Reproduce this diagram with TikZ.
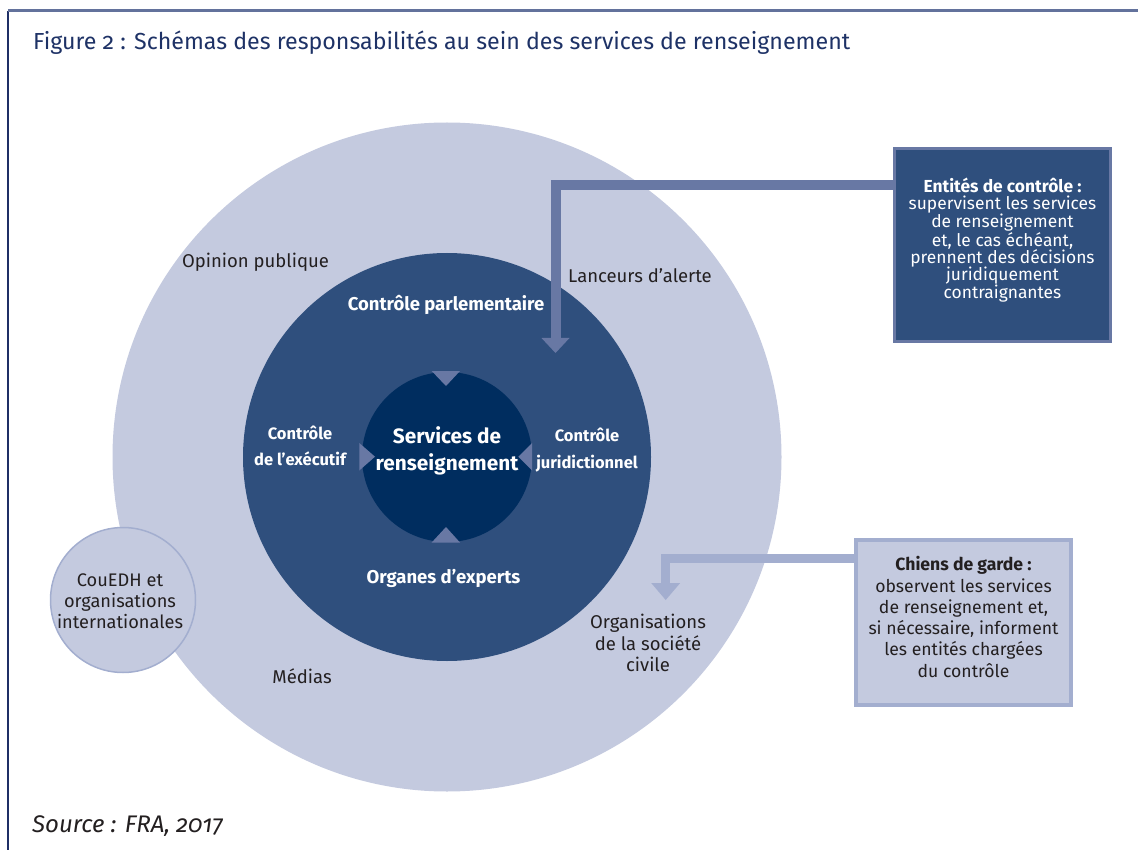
\documentclass[tikz,border=0pt]{standalone}
\usepackage{fontspec}
\setmainfont[Numbers=OldStyle]{Fira Sans}
\usetikzlibrary{arrows.meta}
\definecolor{outerc}{HTML}{C4CADF}
\definecolor{midc}{HTML}{2F4F7D}
\definecolor{innerc}{HTML}{002D5F}
\definecolor{slatec}{HTML}{6878A4}
\definecolor{palec}{HTML}{A3AECF}
\definecolor{titlec}{HTML}{1E3266}
\definecolor{textc}{HTML}{231F20}
\definecolor{framec}{HTML}{1F2F66}
\begin{document}
\begin{tikzpicture}[x=1pt,y=-1pt,
  ring/.style={circle,inner sep=0pt,draw=none},
  lbl/.style={text=textc,font=\fontsize{18.5}{21.3}\selectfont,align=center,inner sep=0pt},
  wlbl/.style={text=white,font=\bfseries\fontsize{16.5}{26.3}\selectfont,align=center,inner sep=0pt},
  wlblbig/.style={text=white,font=\bfseries\fontsize{18.5}{26.3}\selectfont,align=center,inner sep=0pt},
  marker/.style={fill=slatec,draw=none},
  entbox/.style={draw=slatec,line width=3pt,fill=midc,inner sep=0pt},
  chbox/.style={draw=palec,line width=4pt,fill=outerc,inner sep=0pt},
  bigarrow/.style={line width=#1,line join=miter},
]
\useasboundingbox (0,0) rectangle (1138,850);
% frame
\coordinate (ftl) at (8,11);
\coordinate (ftr) at (1138,11);
\coordinate (fbl) at (8,850);
\draw[framec,line width=1.5pt] (ftl) -- (fbl);
\draw[slatec!95!black,line width=3pt] (ftl) -- (ftr);
% title
\node[anchor=base west,text=titlec,font=\fontsize{23.2}{27}\selectfont,inner sep=0pt] (title) at (33,50)
  {Figure 2 : Schémas des responsabilités au sein des services de renseignement};
% circles
\node[ring,fill=outerc,minimum size=669pt] (outer) at (447,457) {};
\node[ring,fill=outerc,draw=palec,line width=1.5pt,minimum size=145pt] (cou) at (123,600) {};
\node[ring,fill=midc,minimum size=408pt] (mid) at (447,457) {};
\node[ring,fill=innerc,minimum size=170pt] (inner) at (447,457) {};
% markers
\fill[marker] (431.7,371) -- (460,371) -- (446,386) -- cycle;
\fill[marker] (431.7,542.5) -- (460,542.5) -- (446,527) -- cycle;
\fill[marker] (359.3,443) -- (359.3,470.5) -- (375,456.7) -- cycle;
\fill[marker] (532,443) -- (532,470.5) -- (518.3,456.7) -- cycle;
% boxes
\coordinate (e1) at (0,185);
\coordinate (entend) at (555.5,353);
\coordinate (c1) at (0,558.5);
\coordinate (chend) at (665.7,600);
\node[entbox,minimum width=216pt,minimum height=193pt] (ent) at (1002.5,245) {};
\node[chbox,minimum width=215pt,minimum height=165pt] (ch) at (963.5,622.5) {};
% arrows
\draw[bigarrow=10pt,slatec,-{Triangle[width=28pt,length=15pt,line width=0pt]}]
  (ent.west |- e1) -- (555.5,185) -- (entend);
\draw[bigarrow=9.5pt,palec,-{Triangle[width=29pt,length=17pt,line width=0pt]}]
  (ch.west |- c1) -- (665.7,558.5) -- (chend);
% redraw box borders over arrow joints
\node[entbox,minimum width=216pt,minimum height=193pt] at (ent) {};
\node[chbox,minimum width=215pt,minimum height=165pt] at (ch) {};
% box texts
\node[text=white,align=center,inner sep=0pt,font=\fontsize{17.4}{17.4}\selectfont] (entt) at (1002.5,240)
  {\textbf{Entités de contrôle :}\\supervisent les services\\de renseignement\\et, le cas échéant,\\prennent des décisions\\juridiquement\\contraignantes};
\node[text=textc,align=center,inner sep=0pt,font=\fontsize{17.6}{21.3}\selectfont] (cht) at (963.5,617)
  {\textbf{Chiens de garde :}\\observent les services\\de renseignement et,\\si nécessaire, informent\\les entités chargées\\du contrôle};
% labels
\node[lbl] (op) at (255.5,262) {Opinion publique};
\node[lbl] (la) at (640,276) {Lanceurs d’alerte};
\node[wlblbig] (cp) at (446,305) {Contrôle parlementaire};
\node[wlbl] (ce) at (300,446) {Contrôle\\de l’exécutif};
\node[wlbl] (cj) at (587,450) {Contrôle\\juridictionnel};
\node[wlbl,font=\bfseries\fontsize{20.8}{26.3}\selectfont] (sr) at (447,451) {Services de\\renseignement};
\node[wlblbig] (oe) at (443.5,578) {Organes d’experts};
\node[lbl] (me) at (302,676) {Médias};
\node[lbl] (osc) at (648,643) {Organisations\\de la société\\civile};
\node[lbl,font=\fontsize{18.2}{21}\selectfont] (cout) at (120,601) {CouEDH et\\organisations\\internationales};
% source
\node[anchor=base west,text=textc,font=\itshape\fontsize{24}{27}\selectfont,inner sep=0pt] (src) at (32,832)
  {Source : FRA, 2017};
\end{tikzpicture}
\end{document}
